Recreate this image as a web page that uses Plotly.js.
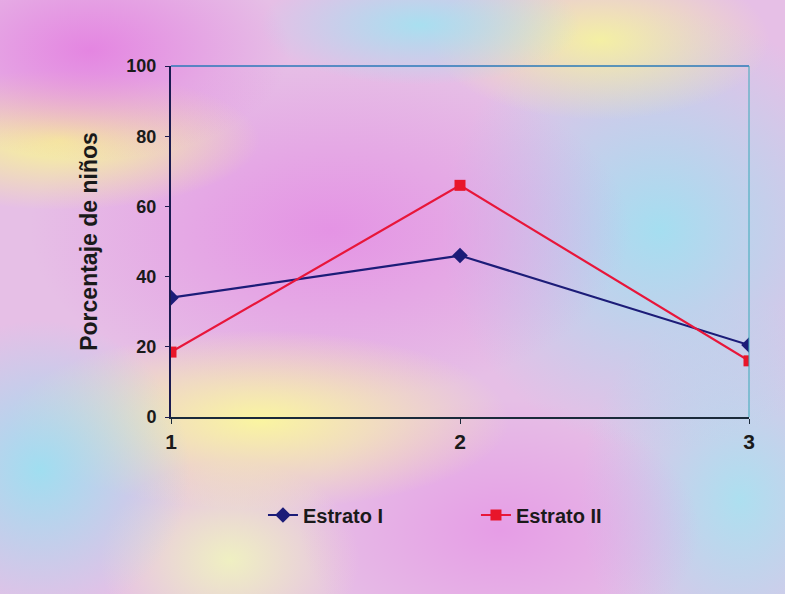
<!DOCTYPE html>
<html><head><meta charset="utf-8">
<script src="https://cdn.plot.ly/plotly-3.0.1.min.js"></script>
<style>
html,body{margin:0;padding:0;}
#bg{position:absolute;left:0;top:0;width:785px;height:594px;
background:
 radial-gradient(ellipse 200px 110px at 90px 50px, rgba(228,130,225,0.95), rgba(228,130,225,0) 100%),
 radial-gradient(ellipse 200px 70px at 60px 140px, rgba(248,245,150,1), rgba(248,245,150,0) 100%),
 radial-gradient(ellipse 160px 60px at 420px 25px, rgba(165,225,240,0.95), rgba(165,225,240,0) 100%),
 radial-gradient(ellipse 170px 80px at 600px 40px, rgba(245,242,160,0.95), rgba(245,242,160,0) 100%),
 radial-gradient(ellipse 150px 150px at 40px 470px, rgba(160,222,240,1), rgba(160,222,240,0) 100%),
 radial-gradient(ellipse 250px 90px at 260px 420px, rgba(250,245,160,1), rgba(250,245,160,0) 100%),
 radial-gradient(ellipse 300px 170px at 330px 230px, rgba(228,145,228,0.95), rgba(228,145,228,0) 100%),
 radial-gradient(ellipse 220px 220px at 660px 230px, rgba(165,222,240,1), rgba(165,222,240,0) 100%),
 radial-gradient(ellipse 200px 130px at 500px 530px, rgba(230,155,230,0.95), rgba(230,155,230,0) 100%),
 radial-gradient(ellipse 160px 200px at 740px 500px, rgba(170,225,240,0.95), rgba(170,225,240,0) 100%),
 radial-gradient(ellipse 130px 100px at 230px 560px, rgba(240,245,190,0.9), rgba(240,245,190,0) 100%),
 #e6bfe6;}
#chart{position:absolute;left:0;top:0;width:785px;height:594px;}
</style>
</head><body>
<div id="bg"></div>
<div id="chart"></div>
<script>
var categories = [1, 2, 3];
var estratoI = [34, 46, 20.5];
var estratoII = [18.5, 66, 16];
var yTicks = [0, 20, 40, 60, 80, 100];
var seriesNames = ["Estrato I", "Estrato II"];

var traces = [
 {x: categories, y: estratoI, name: seriesNames[0], type: 'scatter', mode: 'lines+markers',
  line: {color: '#1c1c78', width: 2.2},
  marker: {symbol: 'diamond', size: 12, color: '#1c1c78'}},
 {x: categories, y: estratoII, name: seriesNames[1], type: 'scatter', mode: 'lines+markers',
  line: {color: '#e8163a', width: 2.2},
  marker: {symbol: 'square', size: 11, color: '#e8162a'}}
];

var layout = {
 width: 785, height: 594,
 paper_bgcolor: 'rgba(0,0,0,0)', plot_bgcolor: 'rgba(0,0,0,0)',
 margin: {l: 171, r: 36, t: 66, b: 177},
 font: {family: 'Liberation Sans, Arial, sans-serif', color: '#1a1a1a'},
 showlegend: true,
 legend: {orientation: 'h', xref: 'container', yref: 'container',
  x: 0.335, xanchor: 'left', y: 0.133, yanchor: 'middle',
  font: {size: 20, family: 'Liberation Sans, Arial', color: '#1a1a1a', weight: 'bold'},
  entrywidth: 168, entrywidthmode: 'pixels', bgcolor: 'rgba(0,0,0,0)'},
 xaxis: {range: [1, 3], tickvals: categories, ticktext: categories.map(String),
  showgrid: false, zeroline: false, showline: true, linecolor: '#1a2a3a', linewidth: 2,
  ticks: 'outside', ticklen: 5, tickcolor: '#1a2a3a',
  tickfont: {size: 21, family: 'Liberation Sans, Arial', weight: 'bold', color: '#1a1a1a'}},
 yaxis: {range: [0, 100], tickvals: yTicks, showgrid: false, zeroline: false,
  showline: true, linecolor: '#1a1a50', linewidth: 2,
  ticks: 'outside', ticklen: 4, tickcolor: '#1a1a50', ticklabelstandoff: 5,
  tickfont: {size: 18, family: 'Liberation Sans, Arial', weight: 'bold', color: '#1a1a1a'},
  title: {text: 'Porcentaje de niños', standoff: 22,
   font: {size: 23, family: 'Liberation Sans, Arial', weight: 'bold', color: '#1a1a1a'}}},
 shapes: [
  {type: 'line', xref: 'paper', yref: 'paper', x0: 0, x1: 1, y0: 1, y1: 1, line: {color: '#2a7ab8', width: 1.5}},
  {type: 'line', xref: 'paper', yref: 'paper', x0: 1, x1: 1, y0: 0, y1: 1, line: {color: '#3aa8b8', width: 1}}
 ]
};
Plotly.newPlot('chart', traces, layout, {displayModeBar: false});
</script>
</body></html>
